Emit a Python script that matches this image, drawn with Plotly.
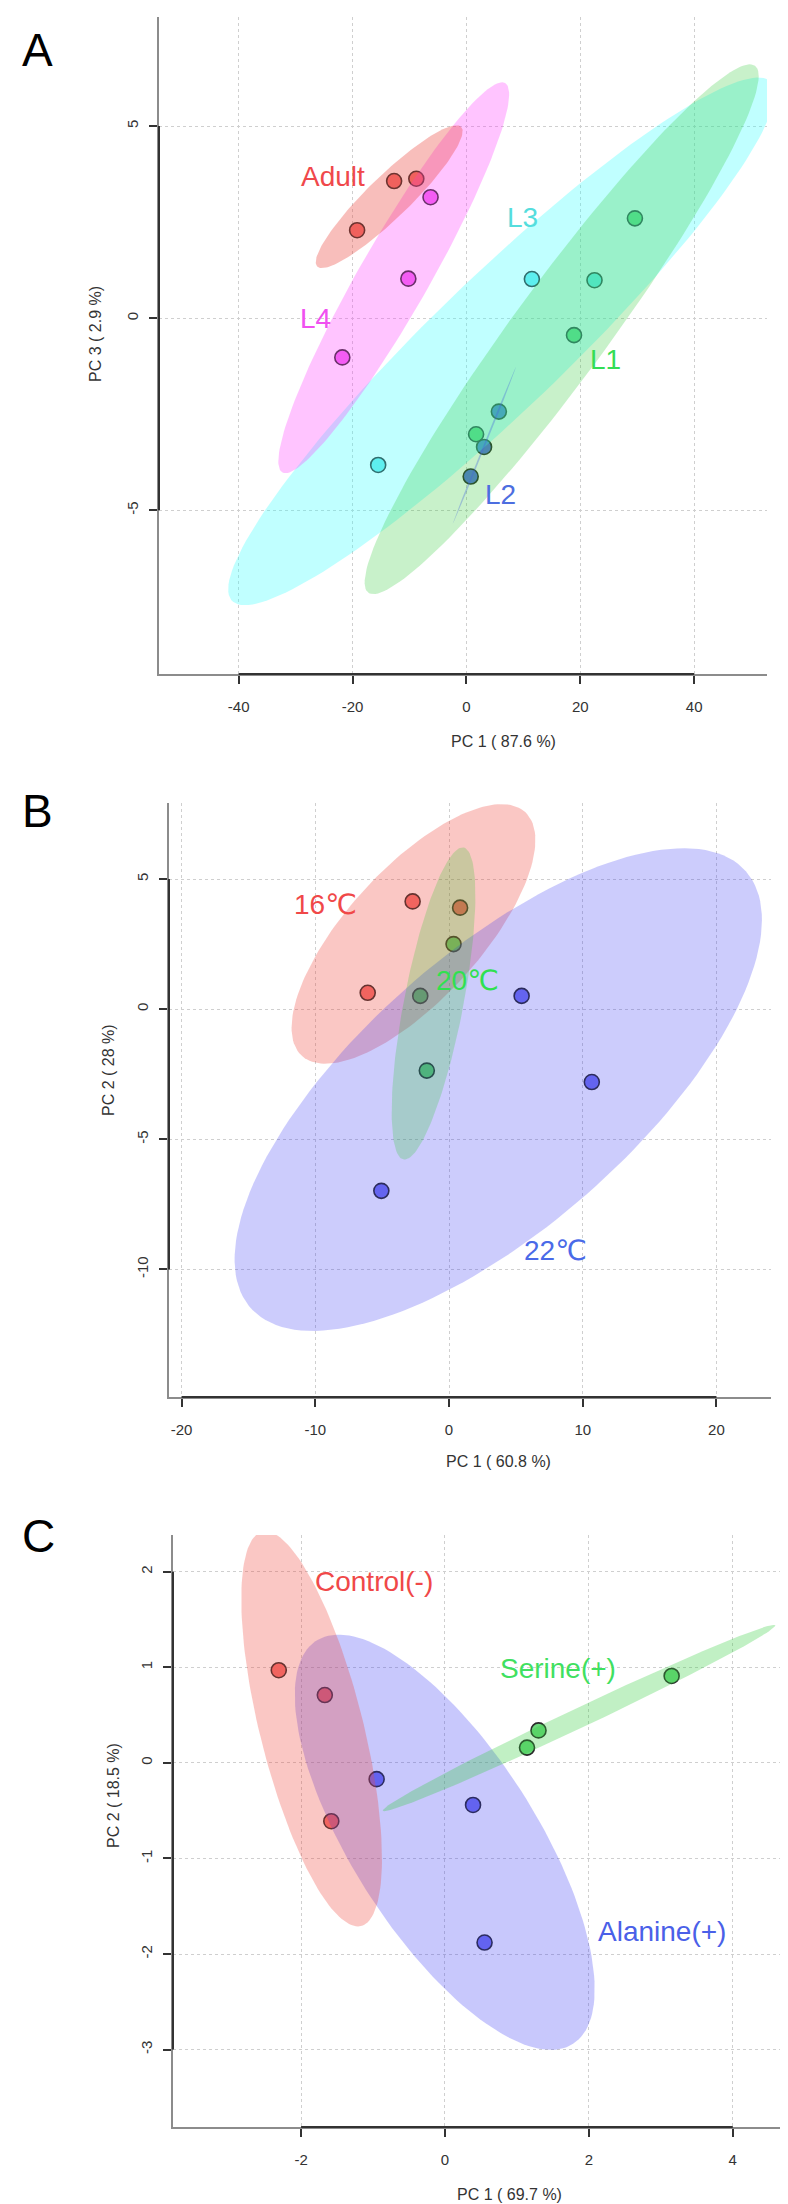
import numpy as np
import plotly.graph_objects as go

W, H = 788, 2204

# ---- panel A: developmental stages (PC1 vs PC3)
a_groups = ["Adult", "L1", "L2", "L3", "L4"]
a_pc1 = [[-12.7, -8.8, -19.2], [29.6, 18.9, 1.7], [5.7, 3.1, 0.75], [11.5, 22.5, -15.5], [-6.3, -10.2, -21.8]]
a_pc3 = [[3.57, 3.63, 2.29], [2.60, -0.44, -3.02], [-2.43, -3.35, -4.12], [1.02, 0.99, -3.82], [3.15, 1.03, -1.02]]
a_ell_tip = [(-0.93, 4.98), (50.7, 6.57), (8.77, -1.25), (53.5, 6.15), (6.8, 6.12)]
a_ell_ratio = [0.21, 0.144, 0.012, 0.177, 0.155]
a_label_at = [(-23.4, 3.70), (24.4, -1.08), (5.96, -4.60), (9.8, 2.63), (-26.5, -0.02)]
a_xticks = [-40, -20, 0, 20, 40]
a_yticks = [-5, 0, 5]

# ---- panel B: temperature (PC1 vs PC2)
b_groups = ["16℃", "20℃", "22℃"]
b_pc1 = [[-2.72, 0.83, -6.08], [0.34, -2.15, -1.66], [5.43, 10.68, -5.06]]
b_pc2 = [[4.14, 3.90, 0.63], [2.50, 0.51, -2.36], [0.51, -2.80, -6.98]]
b_ell_tip = [(5.70, 7.57), (1.09, 6.21), (22.2, 5.3)]
b_ell_ratio = [0.40, 0.187, 0.415]
b_label_at = [(-9.2, 4.04), (1.36, 1.09), (7.96, -9.28)]
b_xticks = [-20, -10, 0, 10, 20]
b_yticks = [-10, -5, 0, 5]

# ---- panel C: amino acids (PC1 vs PC2)
c_groups = ["Control(-)", "Serine(+)", "Alanine(+)"]
c_pc1 = [[-2.31, -1.67, -1.58], [3.15, 1.30, 1.14], [-0.95, 0.39, 0.55]]
c_pc2 = [[0.97, 0.71, -0.61], [0.91, 0.34, 0.16], [-0.17, -0.44, -1.88]]
c_ell_tip = [(-2.54, 2.42), (4.59, 1.44), (1.78, -2.94)]
c_ell_ratio = [0.254, 0.046, 0.385]
c_label_at = [(-0.99, 1.90), (1.57, 0.99), (3.01, -1.76)]
c_xticks = [-2, 0, 2, 4]
c_yticks = [-3, -2, -1, 0, 1, 2]

RED_PT, GRN_PT, BLU_PT = "#F3716F", "#6BD77B", "#7575EF"

panels = [
    dict(name="A", groups=a_groups, xs=a_pc1, ys=a_pc3, tips=a_ell_tip, ratios=a_ell_ratio,
         labels=a_label_at, xticks=a_xticks, yticks=a_yticks,
         box=(151, 759, 9, 666), xr=[-54.0, 52.8], yr=[-9.26, 7.84],
         xtitle="PC 1 ( 87.6 %)", ytitle="PC 3 ( 2.9 %)",
         xt_at=(495, 733), yt_at=(88, 326), tag_at=(29, 42),
         pt=[RED_PT, "#6BD77B", "#5670DC", "#6EE7E7", "#EF6AEF"],
         fill=["rgba(235,70,60,0.35)", "rgba(50,205,60,0.27)", "rgba(70,100,220,0.35)",
               "rgba(60,255,255,0.32)", "rgba(255,60,255,0.3)"],
         text=["#F0484B", "#33DD55", "#4D6EE0", "#55DDDD", "#F050F0"],
         order=[3, 4, 0, 1, 2]),
    dict(name="B", groups=b_groups, xs=b_pc1, ys=b_pc2, tips=b_ell_tip, ratios=b_ell_ratio,
         labels=b_label_at, xticks=b_xticks, yticks=b_yticks,
         box=(161, 763, 795, 1389), xr=[-20.94, 24.08], yr=[-14.9, 7.92],
         xtitle="PC 1 ( 60.8 %)", ytitle="PC 2 ( 28 %)",
         xt_at=(490, 1453), yt_at=(100, 1062), tag_at=(29, 803),
         pt=[RED_PT, GRN_PT, BLU_PT],
         fill=["rgba(240,70,60,0.3)", "rgba(30,200,30,0.22)", "rgba(50,50,245,0.25)"],
         text=["#F04848", "#30E050", "#4A6AE8"],
         order=[0, 2, 1]),
    dict(name="C", groups=c_groups, xs=c_pc1, ys=c_pc2, tips=c_ell_tip, ratios=c_ell_ratio,
         labels=c_label_at, xticks=c_xticks, yticks=c_yticks,
         box=(165, 773, 1527, 2119), xr=[-3.78, 4.67], yr=[-3.81, 2.385],
         xtitle="PC 1 ( 69.7 %)", ytitle="PC 2 ( 18.5 %)",
         xt_at=(501, 2186), yt_at=(105, 1788), tag_at=(30, 1528),
         pt=[RED_PT, GRN_PT, BLU_PT],
         fill=["rgba(240,70,60,0.3)", "rgba(50,205,60,0.3)", "rgba(50,50,245,0.27)"],
         text=["#F04848", "#40E060", "#4A60E8"],
         order=[2, 0, 1]),
]


def ellipse(cx, cy, tip, ratio, sx, sy, n=160):
    # build the ellipse in screen pixels, then map back to data units
    ux, uy = (tip[0] - cx) * sx, (tip[1] - cy) * sy
    vx, vy = -uy * ratio, ux * ratio
    t = np.linspace(0, 2 * np.pi, n)
    px = ux * np.cos(t) + vx * np.sin(t)
    py = uy * np.cos(t) + vy * np.sin(t)
    return cx + px / sx, cy + py / sy


fig = go.Figure()
annos = []
shapes = []
FONT = "Liberation Sans, Arial, DejaVu Sans"

for k, p in enumerate(panels):
    sfx = "" if k == 0 else str(k + 1)
    xa, ya = "x" + sfx, "y" + sfx
    left, right, top, bottom = p["box"]
    sx = (right - left) / (p["xr"][1] - p["xr"][0])
    sy = (bottom - top) / (p["yr"][1] - p["yr"][0])

    # points first, the confidence ellipses are painted over them
    for i, g in enumerate(p["groups"]):
        fig.add_trace(go.Scatter(
            x=p["xs"][i], y=p["ys"][i], mode="markers", xaxis=xa, yaxis=ya,
            marker=dict(size=15, color=p["pt"][i], line=dict(color="#2a2a2a", width=1.6)),
            showlegend=False, name=g))
    for i in p["order"]:
        cx, cy = np.mean(p["xs"][i]), np.mean(p["ys"][i])
        ex, ey = ellipse(cx, cy, p["tips"][i], p["ratios"][i], sx, sy)
        fig.add_trace(go.Scatter(
            x=ex, y=ey, mode="lines", fill="toself", fillcolor=p["fill"][i],
            line=dict(width=0, color=p["fill"][i]), xaxis=xa, yaxis=ya,
            hoverinfo="skip", showlegend=False))
    for i, g in enumerate(p["groups"]):
        annos.append(dict(x=p["labels"][i][0], y=p["labels"][i][1], xref=xa, yref=ya,
                          text=g, showarrow=False, xanchor="center", yanchor="middle",
                          font=dict(size=28, color=p["text"][i], family=FONT)))

    axis_common = dict(
        ticks="outside", ticklen=8, tickwidth=1.5, tickcolor="#333",
        showline=True, linecolor="#8c8c8c", linewidth=2,
        showgrid=True, gridcolor="#cfcfcf", griddash="dot", gridwidth=1,
        zeroline=False, tickfont=dict(size=15, color="#333", family=FONT),
    )
    fig.layout["xaxis" + sfx] = dict(
        axis_common, domain=[left / W, right / W], range=p["xr"], anchor=ya,
        tickvals=p["xticks"], ticktext=[str(v) for v in p["xticks"]], ticklabelstandoff=10)
    fig.layout["yaxis" + sfx] = dict(
        axis_common, domain=[1 - bottom / H, 1 - top / H], range=p["yr"], anchor=xa,
        tickvals=p["yticks"], ticktext=[str(v) for v in p["yticks"]], tickangle=-90,
        ticklabelstandoff=5)

    # darker axis segment between first and last tick, as drawn by axis()
    shapes.append(dict(type="line", xref=xa, yref=ya + " domain", x0=p["xticks"][0], x1=p["xticks"][-1],
                       y0=0, y1=0, line=dict(color="#333", width=2)))
    shapes.append(dict(type="line", xref=xa + " domain", yref=ya, x0=0, x1=0, y0=p["yticks"][0],
                       y1=p["yticks"][-1], line=dict(color="#333", width=2)))

    annos.append(dict(x=p["xt_at"][0] / W, y=1 - p["xt_at"][1] / H, xref="paper", yref="paper",
                      text=p["xtitle"], showarrow=False, xanchor="center", yanchor="middle",
                      font=dict(size=16, color="#333", family=FONT)))
    annos.append(dict(x=p["yt_at"][0] / W, y=1 - p["yt_at"][1] / H, xref="paper", yref="paper",
                      text=p["ytitle"], showarrow=False, xanchor="center", yanchor="middle", textangle=-90,
                      font=dict(size=16, color="#333", family=FONT)))
    annos.append(dict(x=p["tag_at"][0] / W, y=1 - p["tag_at"][1] / H, xref="paper", yref="paper",
                      text=p["name"], showarrow=False, xanchor="center", yanchor="middle",
                      font=dict(size=46, color="#000", family=FONT)))

fig.update_layout(
    width=W, height=H, margin=dict(l=0, r=0, t=0, b=0),
    paper_bgcolor="white", plot_bgcolor="white",
    annotations=annos, shapes=shapes, showlegend=False,
)

fig.write_html("out.html")
